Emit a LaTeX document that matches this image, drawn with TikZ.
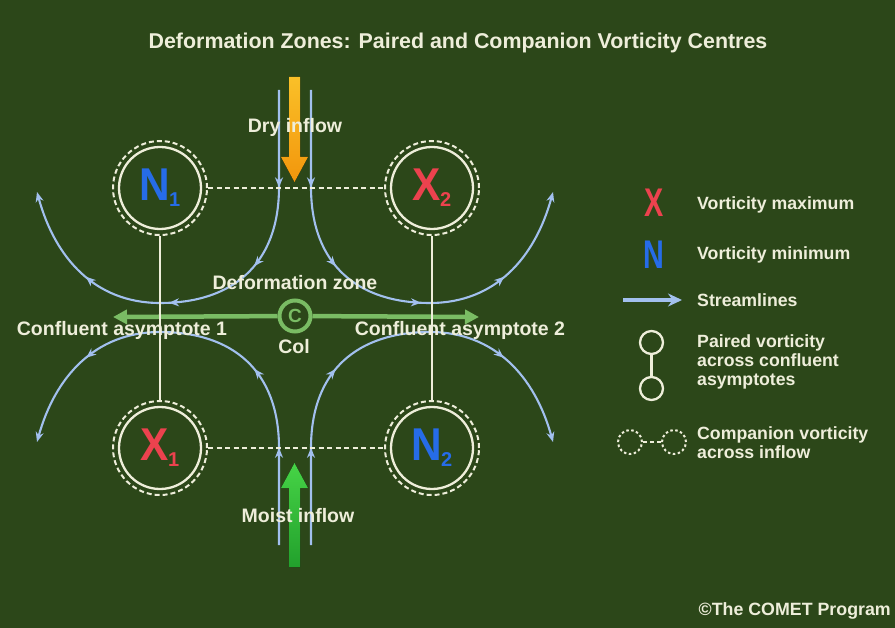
\documentclass[tikz,border=0pt]{standalone}
\usepackage{fontspec}
\setmainfont{Liberation Sans}
\usetikzlibrary{arrows.meta,decorations.markings}
\definecolor{bg}{RGB}{44,71,25}
\definecolor{cream}{RGB}{238,238,218}
\definecolor{sl}{RGB}{162,192,238}
\definecolor{asg}{RGB}{122,188,100}
\definecolor{nblue}{RGB}{38,108,232}
\definecolor{xred}{RGB}{236,66,78}
\definecolor{dryA}{RGB}{250,192,40}
\definecolor{dryB}{RGB}{242,150,12}
\definecolor{wetA}{RGB}{70,212,70}
\definecolor{wetB}{RGB}{34,160,44}
\newcommand{\myfs}[1]{\fontsize{#1}{#1}\selectfont}
\newcommand{\vlab}[3]{\textcolor{#1}{\bfseries\scalebox{0.92}[1]{\myfs{46}#2}\hspace{-1pt}\raisebox{-6pt}{\myfs{20}#3}}}
\begin{document}
\begin{tikzpicture}[x=1pt,y=-1pt,
  >={Stealth[length=10pt,width=8pt]},
  lbl/.style={text=cream, font=\bfseries\myfs{19.5}, inner sep=0pt},
  leg/.style={text=cream, font=\bfseries\fontsize{17.7}{19}\selectfont, inner sep=0pt, anchor=west, align=left},
  vort/.style={circle, draw=cream, line width=2.3pt, minimum size=82pt, inner sep=0pt},
  ring/.style={draw=cream, line width=2pt, dash pattern=on 5pt off 3pt},
  comp/.style={draw=cream, line width=2pt, dash pattern=on 5pt off 3.5pt, shorten <=6pt, shorten >=6pt},
  pair/.style={draw=cream, line width=2pt, shorten <=6pt, shorten >=6pt},
  stream/.style={color=sl, line width=2.1pt, ->},
  upmarks/.style={postaction={decorate}, decoration={markings,
      mark=at position 0.209 with {\arrow{>}},
      mark=at position 0.39 with {\arrow{>}},
      mark=at position 0.595 with {\arrow{>}},
      mark=at position 0.787 with {\arrow{>}}}},
  lowmarks/.style={postaction={decorate}, decoration={markings,
      mark=at position 0.209 with {\arrow{>}},
      mark=at position 0.39 with {\arrow{>}},
      mark=at position 0.787 with {\arrow{>}}}},
  asym/.style={draw=asg, line width=4.5pt, -{Triangle[length=14pt,width=14pt]}},
  colnode/.style={circle, draw=asg, line width=4pt, fill=bg, minimum size=31pt, inner sep=0pt, text=asg, font=\bfseries\myfs{19}},
  legc/.style={circle, draw=cream, line width=2.3pt, minimum size=23pt, inner sep=0pt},
  legd/.style={circle, draw=cream, line width=2pt, dash pattern=on 2.5pt off 2.5pt, minimum size=24pt, inner sep=0pt}
]
\useasboundingbox (0,0) rectangle (895,628);
\fill[bg] (0,0) rectangle (895,628);

% title
\node[text=cream, font=\bfseries\myfs{21.4}, inner sep=0pt] (title) at (458,43) {Deformation Zones: Paired and Companion Vorticity Centres};

% streamlines
\draw[stream, upmarks] (279,90) -- (279,187) .. controls (279,265) and (232,303) .. (160,303) .. controls (95,303) and (55,258) .. (37,192);
\draw[stream, upmarks] (311,90) -- (311,187) .. controls (311,265) and (358,303) .. (430,303) .. controls (495,303) and (535,258) .. (553,192);
\draw[stream, lowmarks] (279,545) -- (279,448) .. controls (279,370) and (232,332) .. (160,332) .. controls (95,332) and (55,377) .. (37,442);
\draw[stream, lowmarks] (311,545) -- (311,448) .. controls (311,370) and (358,332) .. (430,332) .. controls (495,332) and (535,377) .. (553,442);

% inflow arrows
\fill[top color=dryA, bottom color=dryB] (289,77) -- (300,77) -- (300,157) -- (308,157) -- (294.5,182) -- (281,157) -- (289,157) -- cycle;
\fill[top color=wetA, bottom color=wetB] (289,567) -- (300,567) -- (300,488) -- (308,488) -- (294.5,463) -- (281,488) -- (289,488) -- cycle;

% confluent asymptotes and col
\node[colnode] (col) at (295,316) {C};
\coordinate (aL) at (113,317);
\coordinate (aR) at (479,317);
\draw[asym] (col) -- (aL);
\draw[asym] (col) -- (aR);

% vorticity centres
\node[vort] (N1) at (160,188) {\vlab{nblue}{N}{1}};
\node[vort] (X2) at (432,188) {\vlab{xred}{X}{2}};
\node[vort] (X1) at (160,448) {\vlab{xred}{X}{1}};
\node[vort] (N2) at (432,448) {\vlab{nblue}{N}{2}};
\foreach \n in {N1,X2,X1,N2} \draw[ring] (\n.center) circle[radius=47pt];
\draw[comp] (N1) -- (X2);
\draw[comp] (X1) -- (N2);
\draw[pair] (N1) -- (X1);
\draw[pair] (X2) -- (N2);

% labels
\node[lbl] (dry) at (295,127) {Dry inflow};
\node[lbl] (defz) at (295,283) {Deformation zone};
\node[lbl] (ca1) at (122,330) {Confluent asymptote 1};
\node[lbl] (ca2) at (460,330) {Confluent asymptote 2};
\node[lbl] (coltxt) at (294,347) {Col};
\node[lbl] (moist) at (298,516) {Moist inflow};

% legend
\node[inner sep=0pt] (lx) at (654,203) {\textcolor{xred}{\bfseries\scalebox{0.72}[1]{\myfs{40}X}}};
\node[inner sep=0pt] (ln) at (654,255) {\textcolor{nblue}{\bfseries\scalebox{0.72}[1]{\myfs{40}N}}};
\node[leg] (t1) at (697,205) {Vorticity maximum};
\node[leg] (t2) at (697,255) {Vorticity minimum};
\coordinate (s1) at (623,300);
\coordinate (s2) at (682,300);
\draw[sl, line width=3.5pt, -{Stealth[length=14pt,width=13pt]}] (s1) -- (s2);
\node[leg] (t3) at (697,300) {Streamlines};
\node[legc] (p1) at (651.5,342.5) {};
\node[legc] (p2) at (651.5,388.5) {};
\draw[cream, line width=2.3pt] (p1) -- (p2);
\node[leg] (t4) at (697,362) {Paired vorticity\\across confluent\\asymptotes};
\node[legd] (c1) at (630,442) {};
\node[legd] (c2) at (674,442) {};
\draw[cream, line width=2pt, dash pattern=on 4pt off 3pt] (c1) -- (c2);
\node[leg] (t5) at (697,443) {Companion vorticity\\across inflow};

\node[text=cream, font=\bfseries\myfs{17.8}, inner sep=0pt, anchor=east] (copy) at (891,611) {©The COMET Program};
\end{tikzpicture}
\end{document}
